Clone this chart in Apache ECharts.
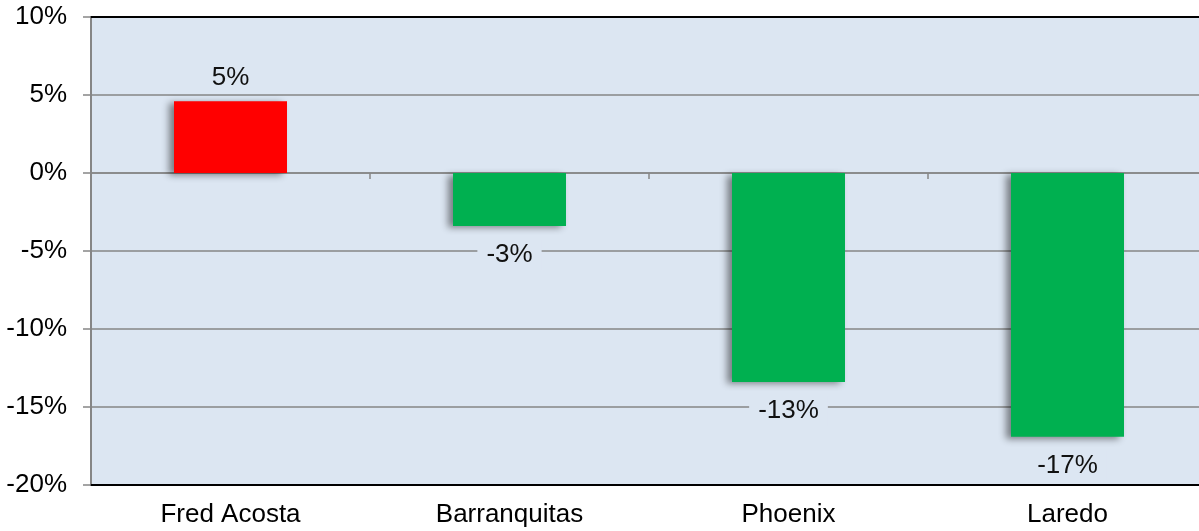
<!DOCTYPE html>
<html><head><meta charset="utf-8">
<script src="https://cdn.jsdelivr.net/npm/echarts@6/dist/echarts.min.js"></script>
<style>html,body{margin:0;padding:0;background:#fff;overflow:hidden}#c{width:1208px;height:531px}</style>
</head><body><div id="c"></div>
<script>
const categories = ['Fred Acosta', 'Barranquitas', 'Phoenix', 'Laredo'];
const values = [4.6, -3.4, -13.4, -16.9];
const barColors = ['#ff0000', '#00b050', '#00b050', '#00b050'];
const yTicks = { min: -20, max: 10, interval: 5 };

const chart = echarts.init(document.getElementById('c'));
const font = 'Liberation Sans, Arial, sans-serif';
chart.setOption({
  animation: false,
  grid: { left: 91, top: 17, width: 1116, height: 468, show: true, backgroundColor: '#dce6f2', borderColor: '#000', borderWidth: 1.5 },
  xAxis: [{
    type: 'category', data: categories, position: 'bottom',
    axisLine: { onZero: false, lineStyle: { color: '#000', width: 2 } },
    axisTick: { show: false },
    axisLabel: { fontFamily: font, fontSize: 26, color: '#000', margin: 17 }
  }, {
    type: 'category', data: categories, position: 'bottom',
    axisLine: { onZero: true, show: true, lineStyle: { color: '#868686', width: 1.5 } },
    axisTick: { show: true, length: 6, lineStyle: { color: '#868686', width: 1.5 } },
    axisLabel: { show: false }
  }, {
    type: 'category', data: categories, position: 'top',
    axisLine: { onZero: false, show: true, lineStyle: { color: '#000', width: 2 } },
    axisTick: { show: false },
    axisLabel: { show: false }
  }],
  yAxis: {
    type: 'value', min: yTicks.min, max: yTicks.max, interval: yTicks.interval,
    axisLine: { show: true, lineStyle: { color: '#868686', width: 2 } },
    axisTick: { show: true, length: 8, lineStyle: { color: '#868686', width: 1.5 } },
    axisLabel: { fontFamily: font, fontSize: 26, color: '#000', margin: 24, formatter: v => v + '%' },
    splitLine: { lineStyle: { color: '#868686', width: 1.5 } }
  },
  series: [{
    type: 'bar', xAxisIndex: 0, barWidth: '40.5%',
    data: values.map((v, i) => ({
      value: v,
      itemStyle: { color: barColors[i], shadowColor: 'rgba(0,0,0,0.45)', shadowBlur: 7, shadowOffsetX: -5, shadowOffsetY: 2 },
      label: { position: v >= 0 ? 'top' : 'bottom', distance: v >= 0 ? 8 : 14 }
    })),
    label: {
      show: true, fontFamily: font, fontSize: 26, color: '#111',
      backgroundColor: '#dce6f2', padding: [2, 9],
      formatter: p => Math.round(p.value) + '%'
    }
  }]
});
</script></body></html>
